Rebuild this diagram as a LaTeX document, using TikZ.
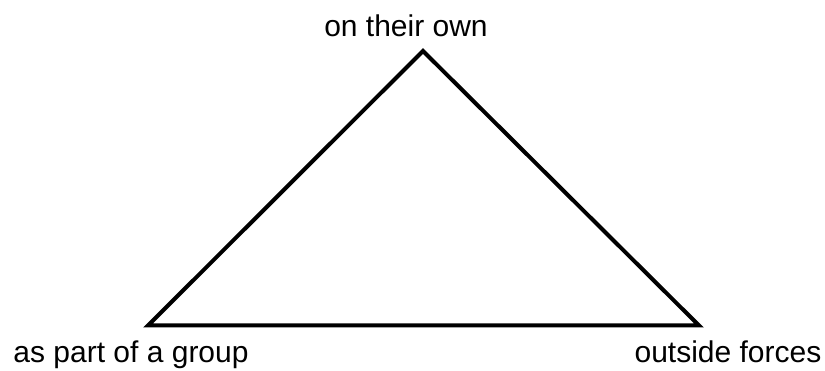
\documentclass[tikz,border=0pt]{standalone}
\usepackage{fontspec}
\setmainfont{Liberation Sans}
\usetikzlibrary{positioning}

\begin{document}
\begin{tikzpicture}[
    x=1pt, y=1pt,
    side/.style={line width=4pt, line join=miter},
    cornerlabel/.style={anchor=base, inner sep=0pt, font=\fontsize{30}{36}\selectfont} % text by a corner
]
\useasboundingbox (0,0) rectangle (825,371);

% Corners
\coordinate (own) at (423,320);
\coordinate (group) at (148,45.5);
\coordinate (forces) at (699,45.5);

% Sides
\draw[side] (own) -- (group) -- (forces) -- cycle;

% Labels
\node[cornerlabel] (ownlabel) at (406,334) {on their own};
\node[cornerlabel] (grouplabel) at (131,8) {as part of a group};
\node[cornerlabel] (forceslabel) at (728,8) {outside forces};

\end{tikzpicture}
\end{document}
